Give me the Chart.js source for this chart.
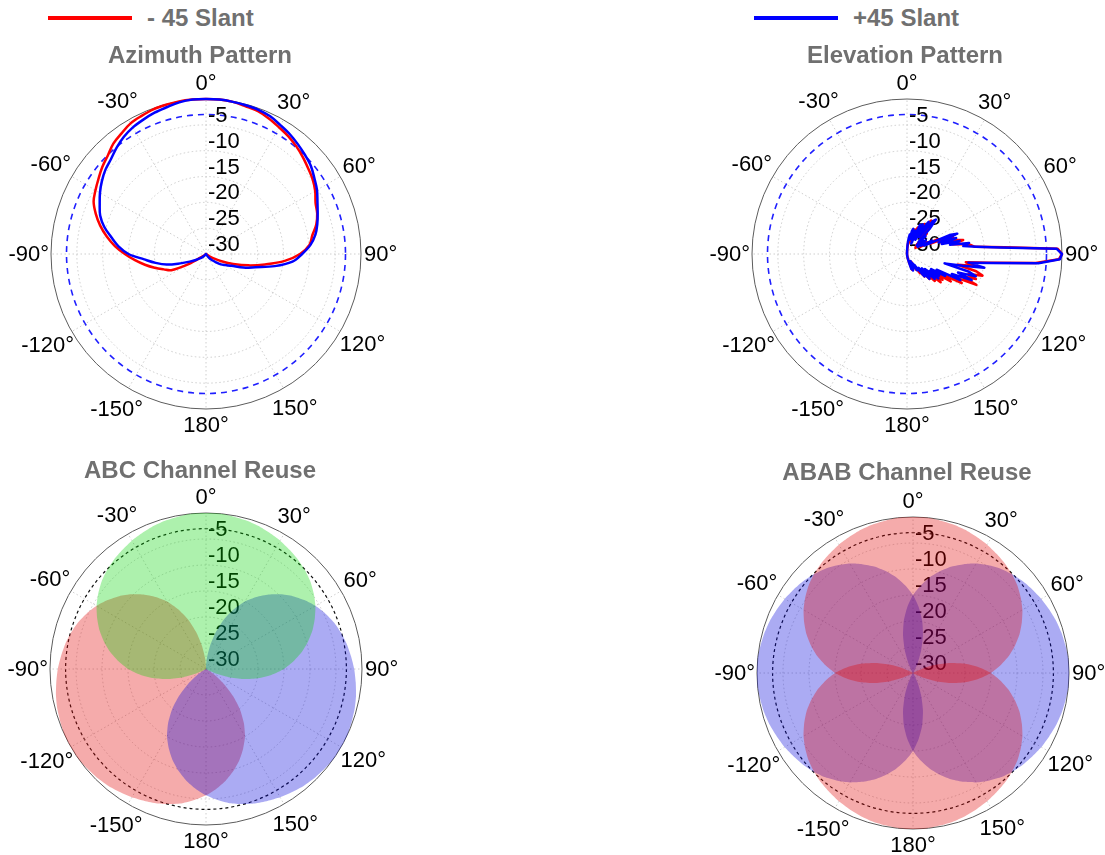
<!DOCTYPE html>
<html>
<head>
<meta charset="utf-8">
<title>Antenna patterns</title>
<script src="https://cdn.jsdelivr.net/npm/chart.js@4.4.1/dist/chart.umd.min.js"></script>
<style>
    html, body { margin: 0; padding: 0; background: #fff; overflow: hidden; }
    #page { position: relative; width: 1105px; height: 855px; }
    canvas { position: absolute; }
    .title, .legend {
        position: absolute;
        font: bold 24px "Liberation Sans", Arial, sans-serif;
        color: #707070;
        line-height: 24px;
        white-space: nowrap;
        z-index: 2;
    }
    .title { text-align: center; }
    .swatch { display: inline-block; width: 84px; height: 4px; margin-right: 15px; vertical-align: middle; position: relative; top: -2px; }
</style>
</head>
<body>
<div id="page">
    <div class="legend" style="left:48px;top:6px"><span class="swatch" style="background:#ff0000"></span>- 45 Slant</div>
    <div class="legend" style="left:754px;top:6px"><span class="swatch" style="background:#0000ff"></span>+45 Slant</div>

    <div class="title" style="left:0;width:400px;top:43px">Azimuth Pattern</div>
    <div class="title" style="left:705px;width:400px;top:43px">Elevation Pattern</div>
    <div class="title" style="left:0;width:400px;top:458px">ABC Channel Reuse</div>
    <div class="title" style="left:707px;width:400px;top:460px">ABAB Channel Reuse</div>

    <canvas id="azimuthChart" width="410" height="410" style="left:1px;top:49px"></canvas>
    <canvas id="elevationChart" width="410" height="410" style="left:702px;top:49px"></canvas>
    <canvas id="abcChart" width="412" height="412" style="left:0px;top:463px"></canvas>
    <canvas id="ababChart" width="412" height="412" style="left:707px;top:467px"></canvas>
</div>
<script>
// radial tick labels (dB) and angle labels, clockwise from the top
const dbTicks = [-5, -10, -15, -20, -25, -30];
const angleTickLabels = ['0°', '30°', '60°', '90°', '120°', '150°', '180°', '-150°', '-120°', '-90°', '-60°', '-30°'];
const halfPowerLevel = -3;

// azimuth pattern, 0..355 deg in 5 deg steps (dB)
const azimuthMinus45 = [
    0, 0, -0.1, -0.4, -0.6, -1.1, -1.7, -2.2, -2.8, -3.5, -4.2, -4.8,
    -5.6, -6.6, -7.1, -7.9, -9.1, -9.9, -11.8, -14.7, -18.4, -21.5, -24.4, -26.7,
    -28.3, -29.2, -30, -30, -30, -30, -30, -30, -30, -30, -30, -30,
    -30, -30, -30, -30, -30, -30, -30, -30, -30, -30, -30, -29.4,
    -26.1, -22.6, -21.3, -19.7, -18.0, -16.2, -14.3, -12.3, -10.5, -8.8, -7.3, -6.0,
    -5.3, -4.6, -3.8, -3.1, -2.1, -1.5, -0.8, -0.5, -0.2, -0.1, 0, 0
];
const azimuthPlus45 = [
    0, 0, -0.1, -0.2, -0.3, -0.6, -1.2, -1.7, -2.3, -2.9, -3.5, -4.4,
    -5.2, -6.2, -7.0, -7.7, -8.5, -9.7, -11.4, -13.2, -16.5, -20.1, -22.3, -24.6,
    -25.7, -26.5, -27.5, -28.3, -28.8, -29.4, -30, -30, -30, -30, -30, -30,
    -30, -30, -30, -30, -30, -30, -30, -30, -30, -29.6, -29.0, -28.5,
    -27.7, -26.5, -24.7, -22.1, -20.1, -18.0, -15.0, -13.0, -11.4, -9.6, -8.2, -7.3,
    -6.3, -5.4, -4.6, -4.0, -3.1, -2.3, -1.7, -1.3, -0.9, -0.6, -0.2, 0
];

// elevation pattern, 0..178 deg in 2 deg steps (the back half sits at the centre)
const elevationMinus45 = [
    -30, -29.5, -28.5, -27.5, -28, -26.8, -27.5, -25.5, -27.5, -25,
    -27, -24.5, -26.5, -24, -26.5, -23.3, -26, -23, -22, -25,
    -23, -26, -24.5, -27.5, -26, -27.8, -26.5, -28, -26.8, -27.5,
    -25.5, -27, -23.5, -25, -21.5, -20.5, -23, -20.2, -18.8, -21,
    -19, -17.5, -16.8, -11, -0.8, 0, -0.6, -5, -14, -18.5,
    -16.5, -20, -16.2, -14.8, -17.5, -15.8, -18.8, -15.3, -20, -18,
    -22, -20, -23.5, -21.5, -23.5, -21.5, -24.5, -22.5, -25, -23.5,
    -26, -24.5, -26.5, -25.5, -27.5, -26.5, -28.3, -27.2, -28, -27,
    -27.6, -26.8, -27.8, -28.4, -29, -29.4, -29.8, -30, -30, -30
];
const elevationPlus45 = [
    -30, -29, -28, -27, -26.2, -27.2, -25.5, -25, -27, -25.5,
    -25.2, -27.8, -23.8, -26, -23.5, -26.8, -24, -22.5, -26, -22,
    -21.3, -23.5, -26.8, -25, -27.5, -26, -27, -25.5, -27.5, -26.3,
    -26.8, -24.5, -26.3, -21, -19.5, -23.5, -20, -23, -19.5, -21.5,
    -17.8, -19, -16.5, -12, -1.0, 0, -0.4, -4.5, -13.5, -18,
    -14.8, -19, -22.5, -17.5, -16, -19.5, -16.5, -20.5, -18.5, -23.5,
    -21.5, -24.5, -22.5, -24.5, -22.3, -25.5, -22.8, -26, -23.8, -23.5,
    -26.5, -24.5, -26.3, -27.5, -26.3, -28, -27.3, -28.5, -27.3, -26.8,
    -26.6, -27.6, -27, -28.2, -28.8, -29.2, -29.6, -30, -30, -30
];

// one sector lobe, offset 0..355 deg from boresight in 5 deg steps (dB)
const sectorLobe = [
    0, 0, -0.2, -0.4, -0.7, -1.1, -1.5, -2.0, -2.5, -3.1, -3.8, -4.7,
    -5.7, -6.9, -8.2, -9.7, -11.3, -13.1, -15.0, -17.3, -19.8, -22.6, -25.4, -27.8,
    -29.5, -30, -30, -30, -30, -30, -30, -30, -30, -30, -30, -30,
    -30, -30, -30, -30, -30, -30, -30, -30, -30, -30, -30, -30,
    -29.5, -27.8, -25.4, -22.6, -19.8, -17.3, -15.0, -13.1, -11.3, -9.7, -8.2, -6.9,
    -5.7, -4.7, -3.8, -3.1, -2.5, -2.0, -1.5, -1.1, -0.7, -0.4, -0.2, 0
];
const abcBoresights = [0, 120, 240];     // green, blue, red
const ababBoresights = [0, 90, 180, 270]; // red, blue, red, blue

const azimuthAngles = Array.from({ length: 72 }, (_, i) => i * 5);
const elevationAngles = Array.from({ length: 180 }, (_, i) => i * 2);

function pointLobe(boresight) {
    const shift = boresight / 5;
    return sectorLobe.map((_, i) => sectorLobe[(i - shift + 72) % 72]);
}

const polarLabels = {
    id: 'polarLabels',
    beforeDatasetsDraw(chart) {
        const scale = chart.scales.r;
        const ctx = chart.ctx;
        const step = chart.data.labels.length / 12;
        const outer = scale.getDistanceFromCenterForValue(0);
        ctx.save();
        ctx.font = '22px "Liberation Sans", Arial, sans-serif';
        ctx.fillStyle = '#000';
        ctx.textAlign = 'center';
        ctx.textBaseline = 'middle';
        angleTickLabels.forEach((text, k) => {
            // push each label out until its box clears the outer ring
            const a = (k * 30) * Math.PI / 180;
            const w = ctx.measureText(text).width;
            const extra = 0.7 * (Math.abs(Math.sin(a)) * w / 2 + Math.abs(Math.cos(a)) * 11);
            const p = scale.getPointPosition(k * step, outer + 8 + extra);
            ctx.fillText(text, p.x, p.y + 1);
        });
        ctx.textAlign = 'left';
        ctx.textBaseline = 'alphabetic';
        dbTicks.forEach((value) => {
            const d = scale.getDistanceFromCenterForValue(value);
            ctx.fillText(String(value), scale.xCenter + 2, scale.yCenter - d - 3);
        });
        ctx.restore();
    }
};

function polarOptions(labelCount, ringColor, ringDash, ringWidth) {
    const spokeEvery = labelCount / 12;
    const tickValue = (c) => (c.tick ? c.tick.value : null);
    return {
        responsive: false,
        animation: false,
        events: [],
        layout: { padding: 50 },
        plugins: { legend: { display: false }, tooltip: { enabled: false } },
        elements: { point: { radius: 0, hitRadius: 0 } },
        scales: {
            r: {
                min: -30,
                max: 0,
                ticks: { display: false, stepSize: 5 },
                pointLabels: { display: false },
                afterBuildTicks: (scale) => { scale.ticks.push({ value: halfPowerLevel }); },
                grid: {
                    circular: true,
                    color: (c) => {
                        const v = tickValue(c);
                        if (v === 0) return '#5c5c5c';
                        if (v === halfPowerLevel) return ringColor;
                        return '#c2c2c2';
                    },
                    lineWidth: (c) => {
                        const v = tickValue(c);
                        if (v === halfPowerLevel) return ringWidth;
                        return v === 0 ? 1 : 0.8;
                    }
                },
                border: {
                    dash: (c) => {
                        const v = tickValue(c);
                        if (v === 0) return [];
                        if (v === halfPowerLevel) return ringDash;
                        return [1.5, 2.5];
                    }
                },
                angleLines: {
                    color: '#c2c2c2',
                    lineWidth: (c) => (c.index % spokeEvery === 0 ? 0.8 : 0),
                    borderDash: [1.5, 2.5]
                }
            }
        }
    };
}

function patternLine(data, color, tension) {
    return { data: data, borderColor: color, borderWidth: 2.5, fill: false, tension: tension, borderJoinStyle: 'round' };
}

function lobeFill(data, color, order) {
    return { data: data, backgroundColor: color, borderColor: 'rgba(0,0,0,0)', borderWidth: 0, fill: 'start', tension: 0.2, order: order };
}

new Chart(document.getElementById('azimuthChart'), {
    type: 'radar',
    data: {
        labels: azimuthAngles,
        datasets: [
            patternLine(azimuthPlus45, '#0000ff', 0.35),
            patternLine(azimuthMinus45, '#ff0000', 0.35)
        ]
    },
    options: polarOptions(azimuthAngles.length, '#1f1fff', [6, 5], 1.6),
    plugins: [polarLabels]
});

new Chart(document.getElementById('elevationChart'), {
    type: 'radar',
    data: {
        labels: elevationAngles,
        datasets: [
            patternLine(elevationPlus45, '#0000ff', 0),
            patternLine(elevationMinus45, '#ff0000', 0)
        ]
    },
    options: polarOptions(elevationAngles.length, '#1f1fff', [6, 5], 1.6),
    plugins: [polarLabels]
});

const abcColors = ['rgba(0, 210, 0, 0.32)', 'rgba(0, 0, 220, 0.33)', 'rgba(225, 0, 0, 0.33)'];
new Chart(document.getElementById('abcChart'), {
    type: 'radar',
    data: {
        labels: azimuthAngles,
        datasets: abcBoresights.map((b, i) => lobeFill(pointLobe(b), abcColors[i], 0))
    },
    options: polarOptions(azimuthAngles.length, '#111', [3, 3], 1.2),
    plugins: [polarLabels]
});

// reds drawn above blues so every overlap takes the same purple
const ababColors = ['rgba(225, 0, 0, 0.33)', 'rgba(0, 0, 220, 0.33)', 'rgba(225, 0, 0, 0.33)', 'rgba(0, 0, 220, 0.33)'];
new Chart(document.getElementById('ababChart'), {
    type: 'radar',
    data: {
        labels: azimuthAngles,
        datasets: ababBoresights.map((b, i) => lobeFill(pointLobe(b), ababColors[i], i % 2))
    },
    options: polarOptions(azimuthAngles.length, '#111', [3, 3], 1.2),
    plugins: [polarLabels]
});
</script>
</body>
</html>
